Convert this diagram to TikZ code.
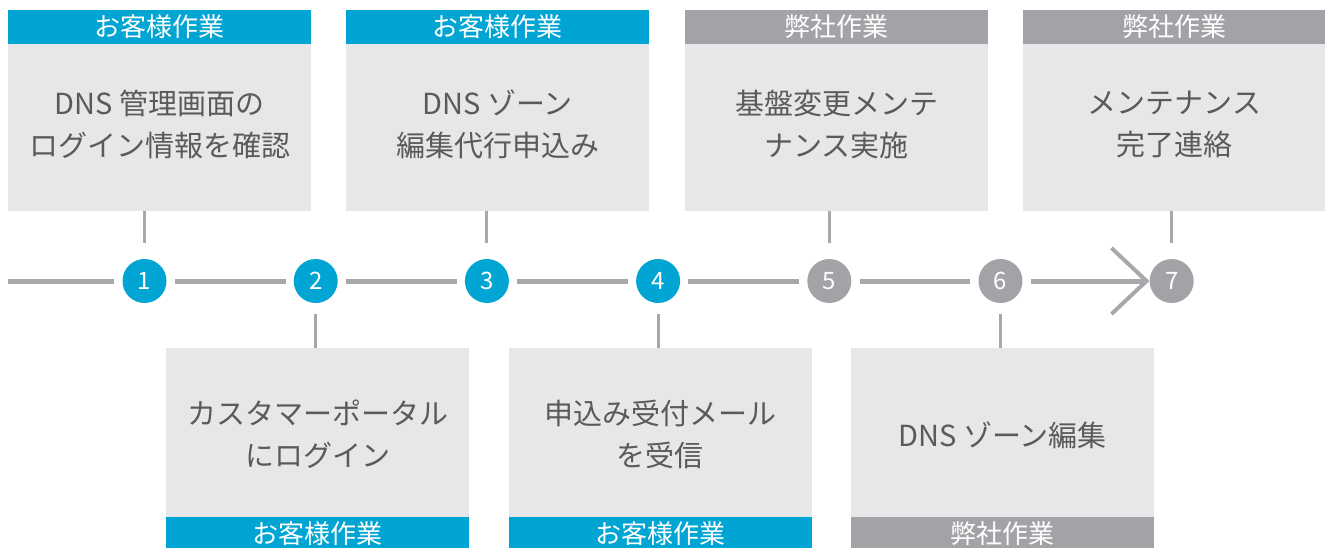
\documentclass[tikz,border=0pt]{standalone}
\usepackage{fontspec}
\setmainfont{Noto Sans CJK JP}
\definecolor{cblue}{HTML}{00A5D3}
\definecolor{cgray}{HTML}{A2A3A6}
\definecolor{cbox}{HTML}{E6E7E9}
\definecolor{ctext}{HTML}{5A5A5A}
\definecolor{cline}{HTML}{A7A8AB}
\begin{document}
\begin{tikzpicture}[x=1pt,y=-1pt,
  bodytop/.style={fill=cbox, minimum width=303pt, minimum height=167pt, inner sep=0pt},
  bodybot/.style={fill=cbox, minimum width=303pt, minimum height=169pt, inner sep=0pt},
  head/.style={minimum width=303pt, minimum height=34pt, inner sep=0pt, text=white, font=\fontsize{26}{30}\selectfont},
  hblue/.style={head, fill=cblue},
  hgray/.style={head, fill=cgray},
  txt/.style={text=ctext, align=center, font=\fontsize{29}{42}\selectfont, inner sep=0pt},
  stepnum/.style={circle, minimum size=44pt, inner sep=0pt, text=white, font=\fontsize{24}{24}\selectfont},
  sblue/.style={stepnum, fill=cblue},
  sgray/.style={stepnum, fill=cgray},
  tl/.style={draw=cline, line width=5pt},
  conn/.style={draw=cline, line width=3pt},
]
\useasboundingbox (0,0) rectangle (1325,547);
\clip (0,0) rectangle (1325,547);

% top boxes
\node[bodytop] (b1) at (159.5,127.5) {};
\node[hblue] (h1) at (159.5,27) {お客様作業};
\node[txt] (t1) at (159.5,124) {DNS 管理画面の\\ログイン情報を確認};

\node[bodytop] (b3) at (497.5,127.5) {};
\node[hblue] (h3) at (497.5,27) {お客様作業};
\node[txt] (t3) at (497.5,124) {DNS ゾーン\\編集代行申込み};

\node[bodytop] (b5) at (836.5,127.5) {};
\node[hgray] (h5) at (836.5,27) {弊社作業};
\node[txt] (t5) at (836.5,124) {基盤変更メンテ\\ナンス実施};

\node[bodytop] (b7) at (1174.5,127.5) {};
\node[hgray] (h7) at (1174.5,27) {弊社作業};
\node[txt] (t7) at (1174.5,124) {メンテナンス\\完了連絡};

% bottom boxes
\node[bodybot] (b2) at (317.5,432.5) {};
\node[hblue] (h2) at (317.5,534) {お客様作業};
\node[txt] (t2) at (317.5,434.5) {カスタマーポータル\\にログイン};

\node[bodybot] (b4) at (660,432.5) {};
\node[hblue] (h4) at (660,534) {お客様作業};
\node[txt] (t4) at (660,434) {申込み受付メール\\を受信};

\node[bodybot] (b6) at (1002.5,432.5) {};
\node[hgray] (h6) at (1002.5,534) {弊社作業};
\node[txt] (t6) at (1002.5,435) {DNS ゾーン編集};

% steps
\node[sblue] (c1) at (144.5,281) {1};
\node[sblue] (c2) at (315.7,281) {2};
\node[sblue] (c3) at (486.9,281) {3};
\node[sblue] (c4) at (658.1,281) {4};
\node[sgray] (c5) at (829.3,281) {5};
\node[sgray] (c6) at (1000.5,281) {6};
\node[sgray] (c7) at (1171.7,281) {7};

% timeline
\coordinate (start) at (8,281);
\draw[tl, shorten >=8pt] (start) -- (c1);
\foreach \a/\b in {c1/c2,c2/c3,c3/c4,c4/c5,c5/c6}
  \draw[tl, shorten <=8pt, shorten >=8pt] (\a) -- (\b);
\coordinate (tip) at ([xshift=-3pt]c7.west);
\draw[tl, shorten <=8pt] (c6) -- (tip);
\draw[tl, line width=4pt, line join=miter] ([shift={(-35,-33)}]tip) -- (tip) -- ([shift={(-35,33)}]tip);

% connectors
\foreach \i in {1,3,5,7}
  \draw[conn, shorten >=16pt] (b\i.south -| c\i) -- (c\i);
\foreach \i in {2,4,6}
  \draw[conn, shorten <=11pt] (c\i) -- (b\i.north -| c\i);
\end{tikzpicture}
\end{document}
